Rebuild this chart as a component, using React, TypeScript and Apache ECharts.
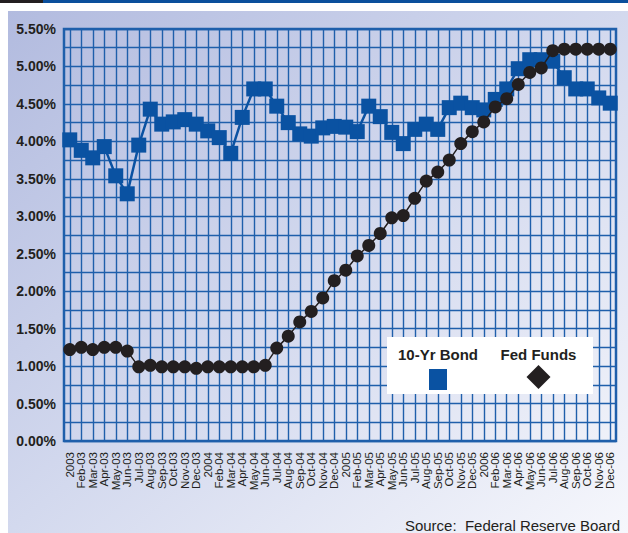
import React, { useEffect, useRef } from "react";
import * as echarts from "echarts";

// Monthly rates, Jan 2003 – Dec 2006
const months: string[] = [
  "2003", "Feb-03", "Mar-03", "Apr-03", "May-03", "Jun-03", "Jul-03", "Aug-03", "Sep-03", "Oct-03", "Nov-03", "Dec-03",
  "2004", "Feb-04", "Mar-04", "Apr-04", "May-04", "Jun-04", "Jul-04", "Aug-04", "Sep-04", "Oct-04", "Nov-04", "Dec-04",
  "2005", "Feb-05", "Mar-05", "Apr-05", "May-05", "Jun-05", "Jul-05", "Aug-05", "Sep-05", "Oct-05", "Nov-05", "Dec-05",
  "2006", "Feb-06", "Mar-06", "Apr-06", "May-06", "Jun-06", "Jul-06", "Aug-06", "Sep-06", "Oct-06", "Nov-06", "Dec-06",
];

const tenYrBond: number[] = [
  4.02, 3.88, 3.78, 3.93, 3.54, 3.30, 3.95, 4.43, 4.23, 4.26, 4.29, 4.23,
  4.14, 4.05, 3.84, 4.32, 4.70, 4.70, 4.47, 4.25, 4.10, 4.07, 4.18, 4.20,
  4.19, 4.13, 4.47, 4.33, 4.12, 3.97, 4.16, 4.23, 4.16, 4.45, 4.51, 4.45,
  4.42, 4.56, 4.70, 4.97, 5.09, 5.09, 5.07, 4.85, 4.70, 4.70, 4.58, 4.51,
];

const fedFunds: number[] = [
  1.22, 1.25, 1.22, 1.25, 1.25, 1.20, 0.99, 1.01, 0.99, 0.99, 0.99, 0.97,
  0.99, 0.99, 0.99, 0.99, 0.99, 1.01, 1.24, 1.40, 1.59, 1.73, 1.91, 2.14,
  2.28, 2.47, 2.61, 2.77, 2.98, 3.01, 3.24, 3.47, 3.59, 3.75, 3.97, 4.13,
  4.26, 4.46, 4.57, 4.76, 4.92, 4.98, 5.21, 5.23, 5.23, 5.23, 5.23, 5.23,
];

const yMin = 0;
const yMax = 5.5;
const yStep = 0.25;

const FONT = "'Liberation Sans', Arial, Helvetica, sans-serif";
const BLUE = "#0a52a2";
const GRID_BLUE = "#1f5fab";
const INK = "#231f20";

export default function App() {
  const ref = useRef<HTMLDivElement | null>(null);

  useEffect(() => {
    if (!ref.current) return;
    const chart = echarts.init(ref.current, undefined, { renderer: "svg" });

    const option: echarts.EChartsOption = {
      animation: false,
      grid: [
        // frame with horizontal rules and percentage labels
        {
          left: 64,
          top: 29,
          width: 552,
          height: 412,
          show: true,
          backgroundColor: "transparent",
          borderColor: GRID_BLUE,
          borderWidth: 2.5,
        },
        // monthly plotting area, one column per month
        {
          left: 69.75,
          top: 29,
          width: 540.5,
          height: 412,
        },
      ],
      xAxis: [
        { type: "value", gridIndex: 0, min: 0, max: 1, show: false },
        {
          type: "category",
          gridIndex: 1,
          data: months,
          boundaryGap: false,
          axisLine: { show: false },
          axisTick: { show: false },
          splitLine: { show: true, interval: 0, lineStyle: { color: GRID_BLUE, width: 1.4 } },
          axisLabel: {
            interval: 0,
            rotate: 90,
            margin: 11,
            fontSize: 11.5,
            fontFamily: FONT,
            color: INK,
          },
        },
      ],
      yAxis: [
        {
          type: "value",
          gridIndex: 0,
          min: yMin,
          max: yMax,
          interval: yStep,
          axisLine: { show: false },
          axisTick: { show: false },
          splitLine: { show: true, lineStyle: { color: GRID_BLUE, width: 1.4 } },
          axisLabel: {
            margin: 8,
            fontSize: 14,
            fontWeight: "bold",
            fontFamily: FONT,
            color: INK,
            formatter: (v: number) =>
              Math.round(v * 100) % 50 === 0 ? v.toFixed(2) + "%" : "",
          },
        },
        { type: "value", gridIndex: 1, min: yMin, max: yMax, show: false },
      ],
      series: [
        {
          name: "10-Yr Bond",
          type: "line",
          xAxisIndex: 1,
          yAxisIndex: 1,
          data: tenYrBond,
          symbol: "rect",
          symbolSize: 15,
          itemStyle: { color: BLUE },
          lineStyle: { color: BLUE, width: 2.5 },
          z: 3,
        },
        {
          name: "Fed Funds",
          type: "line",
          xAxisIndex: 1,
          yAxisIndex: 1,
          data: fedFunds,
          symbol: "circle",
          symbolSize: 13,
          itemStyle: { color: INK },
          lineStyle: { color: INK, width: 1.5 },
          z: 4,
        },
      ],
      graphic: [
        // page background panel
        {
          type: "rect",
          z: -10,
          shape: { x: 8, y: 11, width: 620, height: 522 },
          style: {
            fill: new echarts.graphic.LinearGradient(0, 0, 1, 1, [
              { offset: 0, color: "#b2bbdf" },
              { offset: 0.5, color: "#d3d9ee" },
              { offset: 1, color: "#f6f7fc" },
            ]),
          },
        },
        // top rule
        { type: "rect", z: 10, shape: { x: 0, y: 0, width: 43, height: 3 }, style: { fill: "#231f20" } },
        { type: "rect", z: 10, shape: { x: 43, y: 0, width: 585, height: 3 }, style: { fill: "#0a4f9c" } },
        // legend
        {
          type: "rect",
          z: 100,
          shape: { x: 387, y: 337, width: 206, height: 57 },
          style: { fill: "#ffffff" },
        },
        {
          type: "text",
          z: 101,
          x: 438,
          y: 362,
          style: {
            text: "10-Yr Bond",
            font: `bold 15px ${FONT}`,
            fill: INK,
            align: "center",
            verticalAlign: "bottom",
          },
        },
        {
          type: "rect",
          z: 101,
          shape: { x: 429, y: 369, width: 18, height: 21 },
          style: { fill: BLUE },
        },
        {
          type: "text",
          z: 101,
          x: 538.5,
          y: 362,
          style: {
            text: "Fed Funds",
            font: `bold 15px ${FONT}`,
            fill: INK,
            align: "center",
            verticalAlign: "bottom",
          },
        },
        {
          type: "polygon",
          z: 101,
          shape: {
            points: [
              [538.5, 365],
              [550.5, 377],
              [538.5, 389],
              [526.5, 377],
            ],
          },
          style: { fill: INK },
        },
        // source note
        {
          type: "text",
          z: 20,
          x: 620,
          y: 525,
          style: {
            text: "Source:  Federal Reserve Board",
            font: `15px ${FONT}`,
            fill: INK,
            align: "right",
            verticalAlign: "middle",
          },
        },
      ],
    };

    chart.setOption(option);
    return () => chart.dispose();
  }, []);

  return (
    <div
      ref={ref}
      style={{ position: "fixed", left: 0, top: 0, width: 628, height: 533, background: "#ffffff" }}
    />
  );
}
